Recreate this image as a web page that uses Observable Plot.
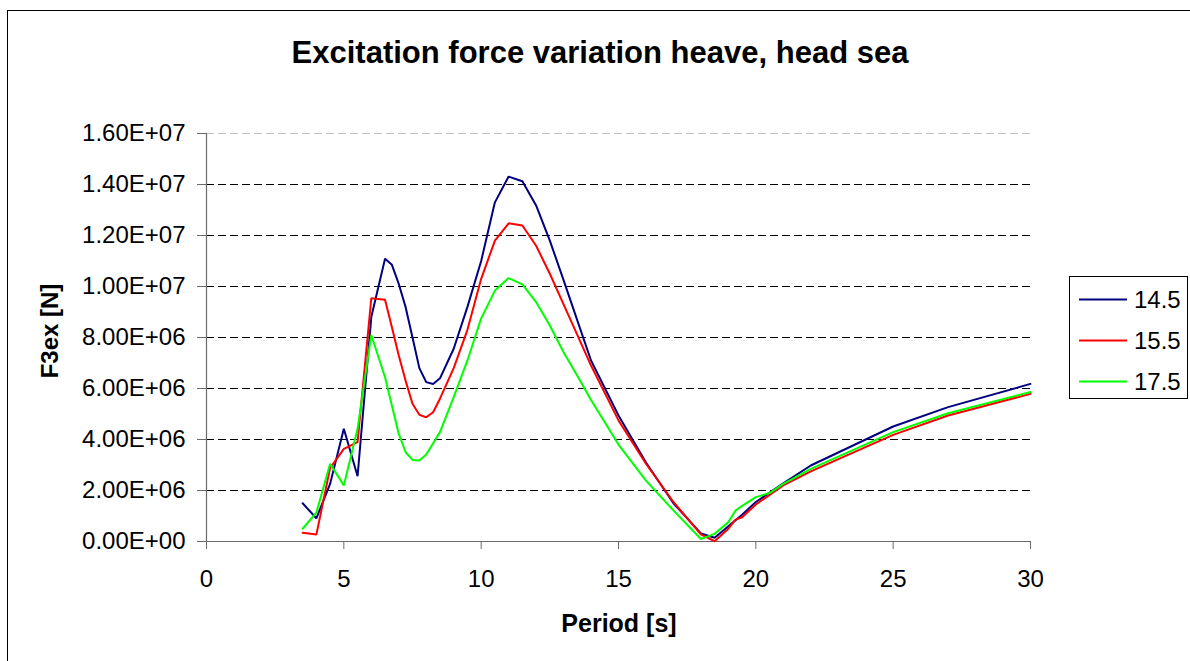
<!DOCTYPE html>
<html>
<head>
<meta charset="utf-8">
<script src="https://cdn.jsdelivr.net/npm/d3@7"></script>
<script src="https://cdn.jsdelivr.net/npm/@observablehq/plot@0.6"></script>
<style>
  body { margin: 0; background: #fff; }
  #wrap { position: relative; width: 1190px; height: 661px; overflow: hidden; background: #fff; }
  #chart, #overlay { position: absolute; left: 0; top: 0; }
  text { font-family: Arial, "Liberation Sans", Helvetica, sans-serif; }
</style>
</head>
<body>
<div id="wrap"><div id="chart"></div><svg id="overlay" width="1190" height="661"></svg></div>
<script>
// ---- Data (force in units of 1e6 N) ----
const seriesNames = ["14.5", "15.5", "17.5"];
const seriesColors = ["#000080", "#FF0000", "#00FF00"];

const periods145 = [3.5,4,4.5,5,5.5,6,6.5,6.75,7,7.25,7.5,7.75,8,8.25,8.5,9,9.5,10,10.5,11,11.5,12,12.5,13,13.5,14,15,16,17,18,18.5,19,19.5,20,21,22,25,27,30];
const force145 = [1.50,0.91,2.26,4.42,2.56,8.8,11.09,10.85,10.1,9.19,8.0,6.8,6.25,6.18,6.4,7.56,9.2,11.0,13.3,14.31,14.13,13.18,11.8,10.25,8.67,7.1,4.94,3.1,1.5,0.32,0.15,0.6,1.05,1.55,2.28,2.98,4.51,5.27,6.18];

const periods155 = [3.5,4,4.5,5,5.5,6,6.5,6.75,7,7.25,7.5,7.75,8,8.25,8.5,9,9.5,10,10.5,11,11.5,12,12.5,13,13.5,14,15,16,17,18,18.5,19,19.25,19.5,20,21,22,25,27,30];
const force155 = [0.34,0.27,2.88,3.63,3.9,9.54,9.48,8.4,7.29,6.3,5.4,4.97,4.87,5.07,5.6,6.8,8.3,10.3,11.8,12.48,12.39,11.6,10.5,9.3,8.1,6.9,4.75,3.05,1.55,0.28,0.01,0.5,0.85,0.95,1.45,2.2,2.75,4.18,4.94,5.79];

const periods175 = [3.5,4,4.5,5,5.5,6,6.5,7,7.25,7.5,7.75,8,8.5,9,9.5,10,10.5,11,11.5,12,12.5,13,13.5,14,15,16,17,18,18.5,19,19.25,19.5,20,20.5,21,22,25,27,30];
const force175 = [0.5,1.13,3.05,2.2,4.42,8.1,6.44,4.22,3.5,3.2,3.18,3.41,4.29,5.66,7.1,8.75,9.84,10.33,10.08,9.39,8.47,7.42,6.5,5.55,3.8,2.39,1.22,0.1,0.3,0.76,1.2,1.4,1.74,1.9,2.26,2.85,4.29,5.03,5.86];

const xTicks = [0,5,10,15,20,25,30];
const yTicks = [0,2e6,4e6,6e6,8e6,10e6,12e6,14e6,16e6];

const titleText = "Excitation force variation heave, head sea";
const xLabel = "Period [s]";
const yLabel = "F3ex [N]";

// ---- Build table ----
const seriesX = [periods145, periods155, periods175];
const seriesY = [force145, force155, force175];
const data = [];
seriesNames.forEach((name, i) => {
  seriesX[i].forEach((p, j) => data.push({series: name, period: p, force: seriesY[i][j] * 1e6}));
});

function sci(v) {
  const [m, e] = v.toExponential(2).split("e");
  const sign = e[0] === "-" ? "-" : "+";
  const digits = e.replace(/^[+-]/, "").padStart(2, "0");
  return m + "E" + sign + digits;
}

const chart = Plot.plot({
  width: 1190,
  height: 661,
  marginLeft: 206,
  marginRight: 160,
  marginTop: 133,
  marginBottom: 120,
  style: {fontFamily: 'Arial, "Liberation Sans", Helvetica, sans-serif', background: "transparent", color: "#000"},
  x: {domain: [0, 30], axis: null, label: null},
  y: {domain: [0, 16e6], axis: null, label: null},
  color: {domain: seriesNames, range: seriesColors},
  marks: [
    Plot.ruleY(yTicks.filter(t => t > 0 && t < 16e6), {stroke: "#000", strokeWidth: 1, strokeDasharray: "8,4"}),
    Plot.ruleY([16e6], {stroke: "#c0c0c0", strokeWidth: 1, strokeDasharray: "8,4"}),
    Plot.axisY(yTicks, {tickSize: 9, tickPadding: 12, tickFormat: sci, fontSize: 24, stroke: "#6a6a6a", fill: "#000", label: null}),
    Plot.axisX(xTicks, {tickSize: 8, tickPadding: 20, fontSize: 24, stroke: "#6a6a6a", fill: "#000", label: null}),
    Plot.ruleX([0], {stroke: "#6a6a6a", strokeWidth: 1.2}),
    Plot.ruleY([0], {stroke: "#6a6a6a", strokeWidth: 1.2}),
    Plot.line(data, {x: "period", y: "force", z: "series", stroke: "series", strokeWidth: 2, strokeLinejoin: "miter"})
  ]
});
document.getElementById("chart").appendChild(chart);

// ---- Overlay: border, titles, legend ----
const ov = d3.select("#overlay");
ov.append("rect").attr("x", 7.5).attr("y", 10.5).attr("width", 1250).attr("height", 700)
  .attr("fill", "none").attr("stroke", "#000").attr("stroke-width", 1);
ov.append("text").attr("x", 600).attr("y", 63).attr("text-anchor", "middle")
  .attr("font-size", 31).attr("font-weight", "bold").text(titleText);
ov.append("text").attr("x", 619).attr("y", 632).attr("text-anchor", "middle")
  .attr("font-size", 25).attr("font-weight", "bold").text(xLabel);
ov.append("text").attr("transform", "translate(58,331) rotate(-90)").attr("text-anchor", "middle")
  .attr("font-size", 24).attr("font-weight", "bold").text(yLabel);

const lg = ov.append("g");
lg.append("rect").attr("x", 1069.5).attr("y", 276.5).attr("width", 118).attr("height", 122)
  .attr("fill", "#fff").attr("stroke", "#000").attr("stroke-width", 1);
const legendY = [299.5, 340.5, 381.5];
seriesNames.forEach((name, i) => {
  lg.append("line").attr("x1", 1079).attr("x2", 1127).attr("y1", legendY[i]).attr("y2", legendY[i])
    .attr("stroke", seriesColors[i]).attr("stroke-width", 2);
  lg.append("text").attr("x", 1134).attr("y", legendY[i] + 8).attr("font-size", 24).text(name);
});
</script>
</body>
</html>
